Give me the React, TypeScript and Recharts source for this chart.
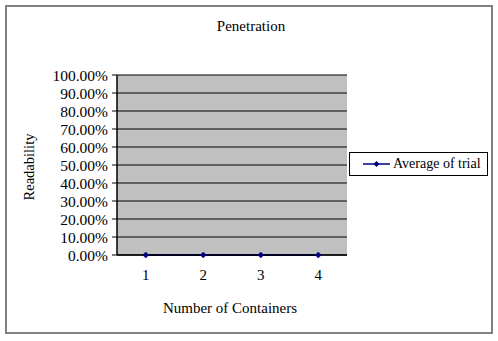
import React from 'react';
import { LineChart, Line, XAxis, YAxis, CartesianGrid, Legend } from 'recharts';

const containers = ['1', '2', '3', '4'];
const trialAverages = [0, 0, 0, 0];
const yTicks = [0, 0.1, 0.2, 0.3, 0.4, 0.5, 0.6, 0.7, 0.8, 0.9, 1];
const seriesName = 'Average of trial';

const data = containers.map((c, i) => ({ container: c, trial: trialAverages[i] }));

const FONT = '"Liberation Serif", "Times New Roman", serif';

const Diamond = (props: any) => {
  const { cx, cy, stroke } = props;
  if (cx == null || cy == null) return null;
  const s = 3;
  return (
    <polygon
      points={`${cx},${cy - s} ${cx + s},${cy} ${cx},${cy + s} ${cx - s},${cy}`}
      fill={stroke}
      stroke={stroke}
      strokeWidth={0.5}
    />
  );
};

const LegendBox = (props: any) => {
  const item = (props.payload || [])[0];
  const color = item ? item.color : '#000080';
  return (
    <div
      style={{
        width: 139,
        height: 24,
        border: '1px solid #000',
        background: '#fff',
        display: 'flex',
        alignItems: 'center',
        boxSizing: 'border-box',
        fontFamily: FONT,
        fontSize: 14,
        color: '#000',
      }}
    >
      <svg width={43} height={20} style={{ display: 'block' }}>
        <line x1={13} y1={10} x2={40} y2={10} stroke={color} strokeWidth={1.5} />
        <polygon points="26.5,7 29.5,10 26.5,13 23.5,10" fill={color} />
      </svg>
      <span style={{ whiteSpace: 'nowrap' }}>{item ? item.value : seriesName}</span>
    </div>
  );
};

export default function App() {
  return (
    <div style={{ position: 'absolute', left: 0, top: 0, width: 498, height: 341, background: '#fff', fontFamily: FONT }}>
      <div
        style={{
          position: 'absolute',
          left: 5,
          top: 5,
          width: 488,
          height: 329,
          border: '2px solid #808080',
          boxSizing: 'border-box',
        }}
      />
      <div
        style={{
          position: 'absolute',
          left: 0,
          width: 502,
          top: 18,
          textAlign: 'center',
          fontSize: 15,
          fontFamily: FONT,
          color: '#000',
        }}
      >
        Penetration
      </div>
      <div style={{ position: 'absolute', left: 0, top: 0 }}>
        <LineChart width={498} height={341} data={data} margin={{ top: 75, right: 151, left: 0, bottom: 36 }}>
          <CartesianGrid vertical={false} stroke="#000" fill="#c0c0c0" />
          <XAxis
            dataKey="container"
            scale="band"
            height={50}
            tickLine={false}
            tickSize={0}
            tickMargin={14}
            axisLine={{ stroke: '#000', strokeWidth: 1.5 }}
            tick={{ fill: '#000', fontSize: 15, fontFamily: FONT }}
            label={{
              content: (p: any) => {
                const vb = p.viewBox;
                return (
                  <text x={vb.x + vb.width / 2 - 2} y={vb.y + 58} textAnchor="middle" fontSize={15} fontFamily={FONT} fill="#000">
                    Number of Containers
                  </text>
                );
              },
            }}
          />
          <XAxis xAxisId="top" orientation="top" dataKey="container" scale="band" height={0} tick={false} tickLine={false} axisLine={{ stroke: '#808080' }} />
          <YAxis
            width={117}
            domain={[0, 1]}
            ticks={yTicks}
            interval={0}
            tickSize={5}
            tickMargin={4}
            tickLine={{ stroke: '#000' }}
            axisLine={{ stroke: '#000', strokeWidth: 1.5 }}
            tick={{ fill: '#000', fontSize: 15.5, fontFamily: FONT }}
            tickFormatter={(v: number) => (v * 100).toFixed(2) + '%'}
            label={{
              content: (p: any) => {
                const vb = p.viewBox;
                const cx = vb.x + 29;
                const cy = vb.y + vb.height / 2 + 2;
                return (
                  <text x={cx} y={cy} transform={`rotate(-90 ${cx} ${cy})`} textAnchor="middle" dominantBaseline="central" fontSize={14.5} fontFamily={FONT} fill="#000">
                    Readability
                  </text>
                );
              },
            }}
          />
          <YAxis yAxisId="right" orientation="right" width={0} domain={[0, 1]} tick={false} tickLine={false} axisLine={{ stroke: '#808080', strokeWidth: 1.5 }} />
          <Legend
            layout="horizontal"
            align="center"
            verticalAlign="middle"
            content={<LegendBox />}
            wrapperStyle={{ position: 'absolute', left: 349, top: 152, width: 140, height: 26 }}
          />
          <Line
            type="linear"
            dataKey="trial"
            name={seriesName}
            stroke="#000080"
            strokeWidth={2}
            dot={<Diamond />}
            activeDot={false}
            isAnimationActive={false}
          />
        </LineChart>
      </div>
    </div>
  );
}
